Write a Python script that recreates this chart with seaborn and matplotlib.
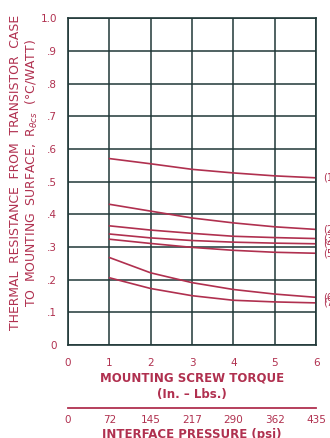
import matplotlib
matplotlib.use("Agg")
import matplotlib.pyplot as plt
import seaborn as sns
import pandas as pd

# torque values (in.-lbs) where curves are read
torque = [1, 2, 3, 4, 5, 6]

# thermal resistance curves (deg C / watt)
curve_1 = [0.571, 0.555, 0.538, 0.527, 0.518, 0.512]
curve_2 = [0.431, 0.410, 0.389, 0.374, 0.362, 0.354]
curve_3 = [0.365, 0.352, 0.342, 0.333, 0.329, 0.326]
curve_4 = [0.340, 0.328, 0.320, 0.315, 0.312, 0.310]
curve_5 = [0.324, 0.311, 0.299, 0.290, 0.284, 0.281]
curve_6 = [0.268, 0.221, 0.191, 0.170, 0.156, 0.146]
curve_7 = [0.206, 0.173, 0.151, 0.137, 0.132, 0.129]

curve_names = ["(1)", "(2)", "(3)", "(4)", "(5)", "(6)", "(7)"]
curves = [curve_1, curve_2, curve_3, curve_4, curve_5, curve_6, curve_7]

y_ticks = [0, 0.1, 0.2, 0.3, 0.4, 0.5, 0.6, 0.7, 0.8, 0.9, 1.0]
y_tick_labels = ["0", ".1", ".2", ".3", ".4", ".5", ".6", ".7", ".8", ".9", "1.0"]
x_ticks = [0, 1, 2, 3, 4, 5, 6]
pressure_labels = ["0", "72", "145", "217", "290", "362", "435"]

RED = "#b0304f"
GRID = "#203838"

rows = []
for name, vals in zip(curve_names, curves):
    for t, v in zip(torque, vals):
        rows.append({"curve": name, "torque": t, "rth": v})
df = pd.DataFrame(rows)

sns.set_style("white")
plt.rcParams["font.family"] = ["DejaVu Sans"]

fig = plt.figure(figsize=(3.30, 4.38), dpi=100)
ax = fig.add_axes([0.206, 0.2123, 0.752, 0.7455])

sns.lineplot(data=df, x="torque", y="rth", units="curve", estimator=None,
             color=RED, linewidth=1.2, ax=ax, legend=False)

ax.set_xlim(0, 6)
ax.set_ylim(0, 1.0)
ax.set_xticks(x_ticks)
ax.set_xticklabels([str(t) for t in x_ticks])
ax.set_yticks(y_ticks)
ax.set_yticklabels(y_tick_labels)
ax.grid(True, color=GRID, linewidth=1.1)
ax.set_axisbelow(True)
for s in ax.spines.values():
    s.set_color(GRID)
    s.set_linewidth(1.2)
ax.tick_params(length=0, labelsize=7.5, labelcolor=RED, pad=9)
ax.tick_params(axis="y", pad=8)

ax.set_xlabel("MOUNTING SCREW TORQUE\n(In. \u2013 Lbs.)", color=RED,
              fontsize=8.5, fontweight="bold", labelpad=3, linespacing=1.3)
ax.set_ylabel("THERMAL  RESISTANCE  FROM  TRANSISTOR  CASE\n"
              "TO  MOUNTING  SURFACE,  R$_{\\theta cs}$  (\u00b0C/WATT)",
              color=RED, fontsize=8.9, linespacing=1.15)
ax.yaxis.set_label_coords(-0.113, 0.527)

for name, vals in zip(curve_names, curves):
    ax.text(6.17, vals[-1], name, color=RED, fontsize=7, va="center",
            ha="left", clip_on=False)

# interface pressure scale
ax2 = fig.add_axes([0.206, 0.069, 0.752, 0.0001])
ax2.set_xlim(0, 6)
ax2.set_yticks([])
for side in ["top", "left", "right"]:
    ax2.spines[side].set_visible(False)
ax2.spines["bottom"].set_color(RED)
ax2.spines["bottom"].set_linewidth(1.3)
ax2.set_xticks(x_ticks)
ax2.set_xticklabels(pressure_labels)
ax2.tick_params(axis="x", direction="inout", length=7, width=1.1,
                color=RED, labelcolor=RED, labelsize=7.5, pad=2)
ax2.set_xlabel("INTERFACE PRESSURE (psi)", color=RED, fontsize=8.5,
               fontweight="bold", labelpad=2)

fig.savefig("out.png", dpi=100)
